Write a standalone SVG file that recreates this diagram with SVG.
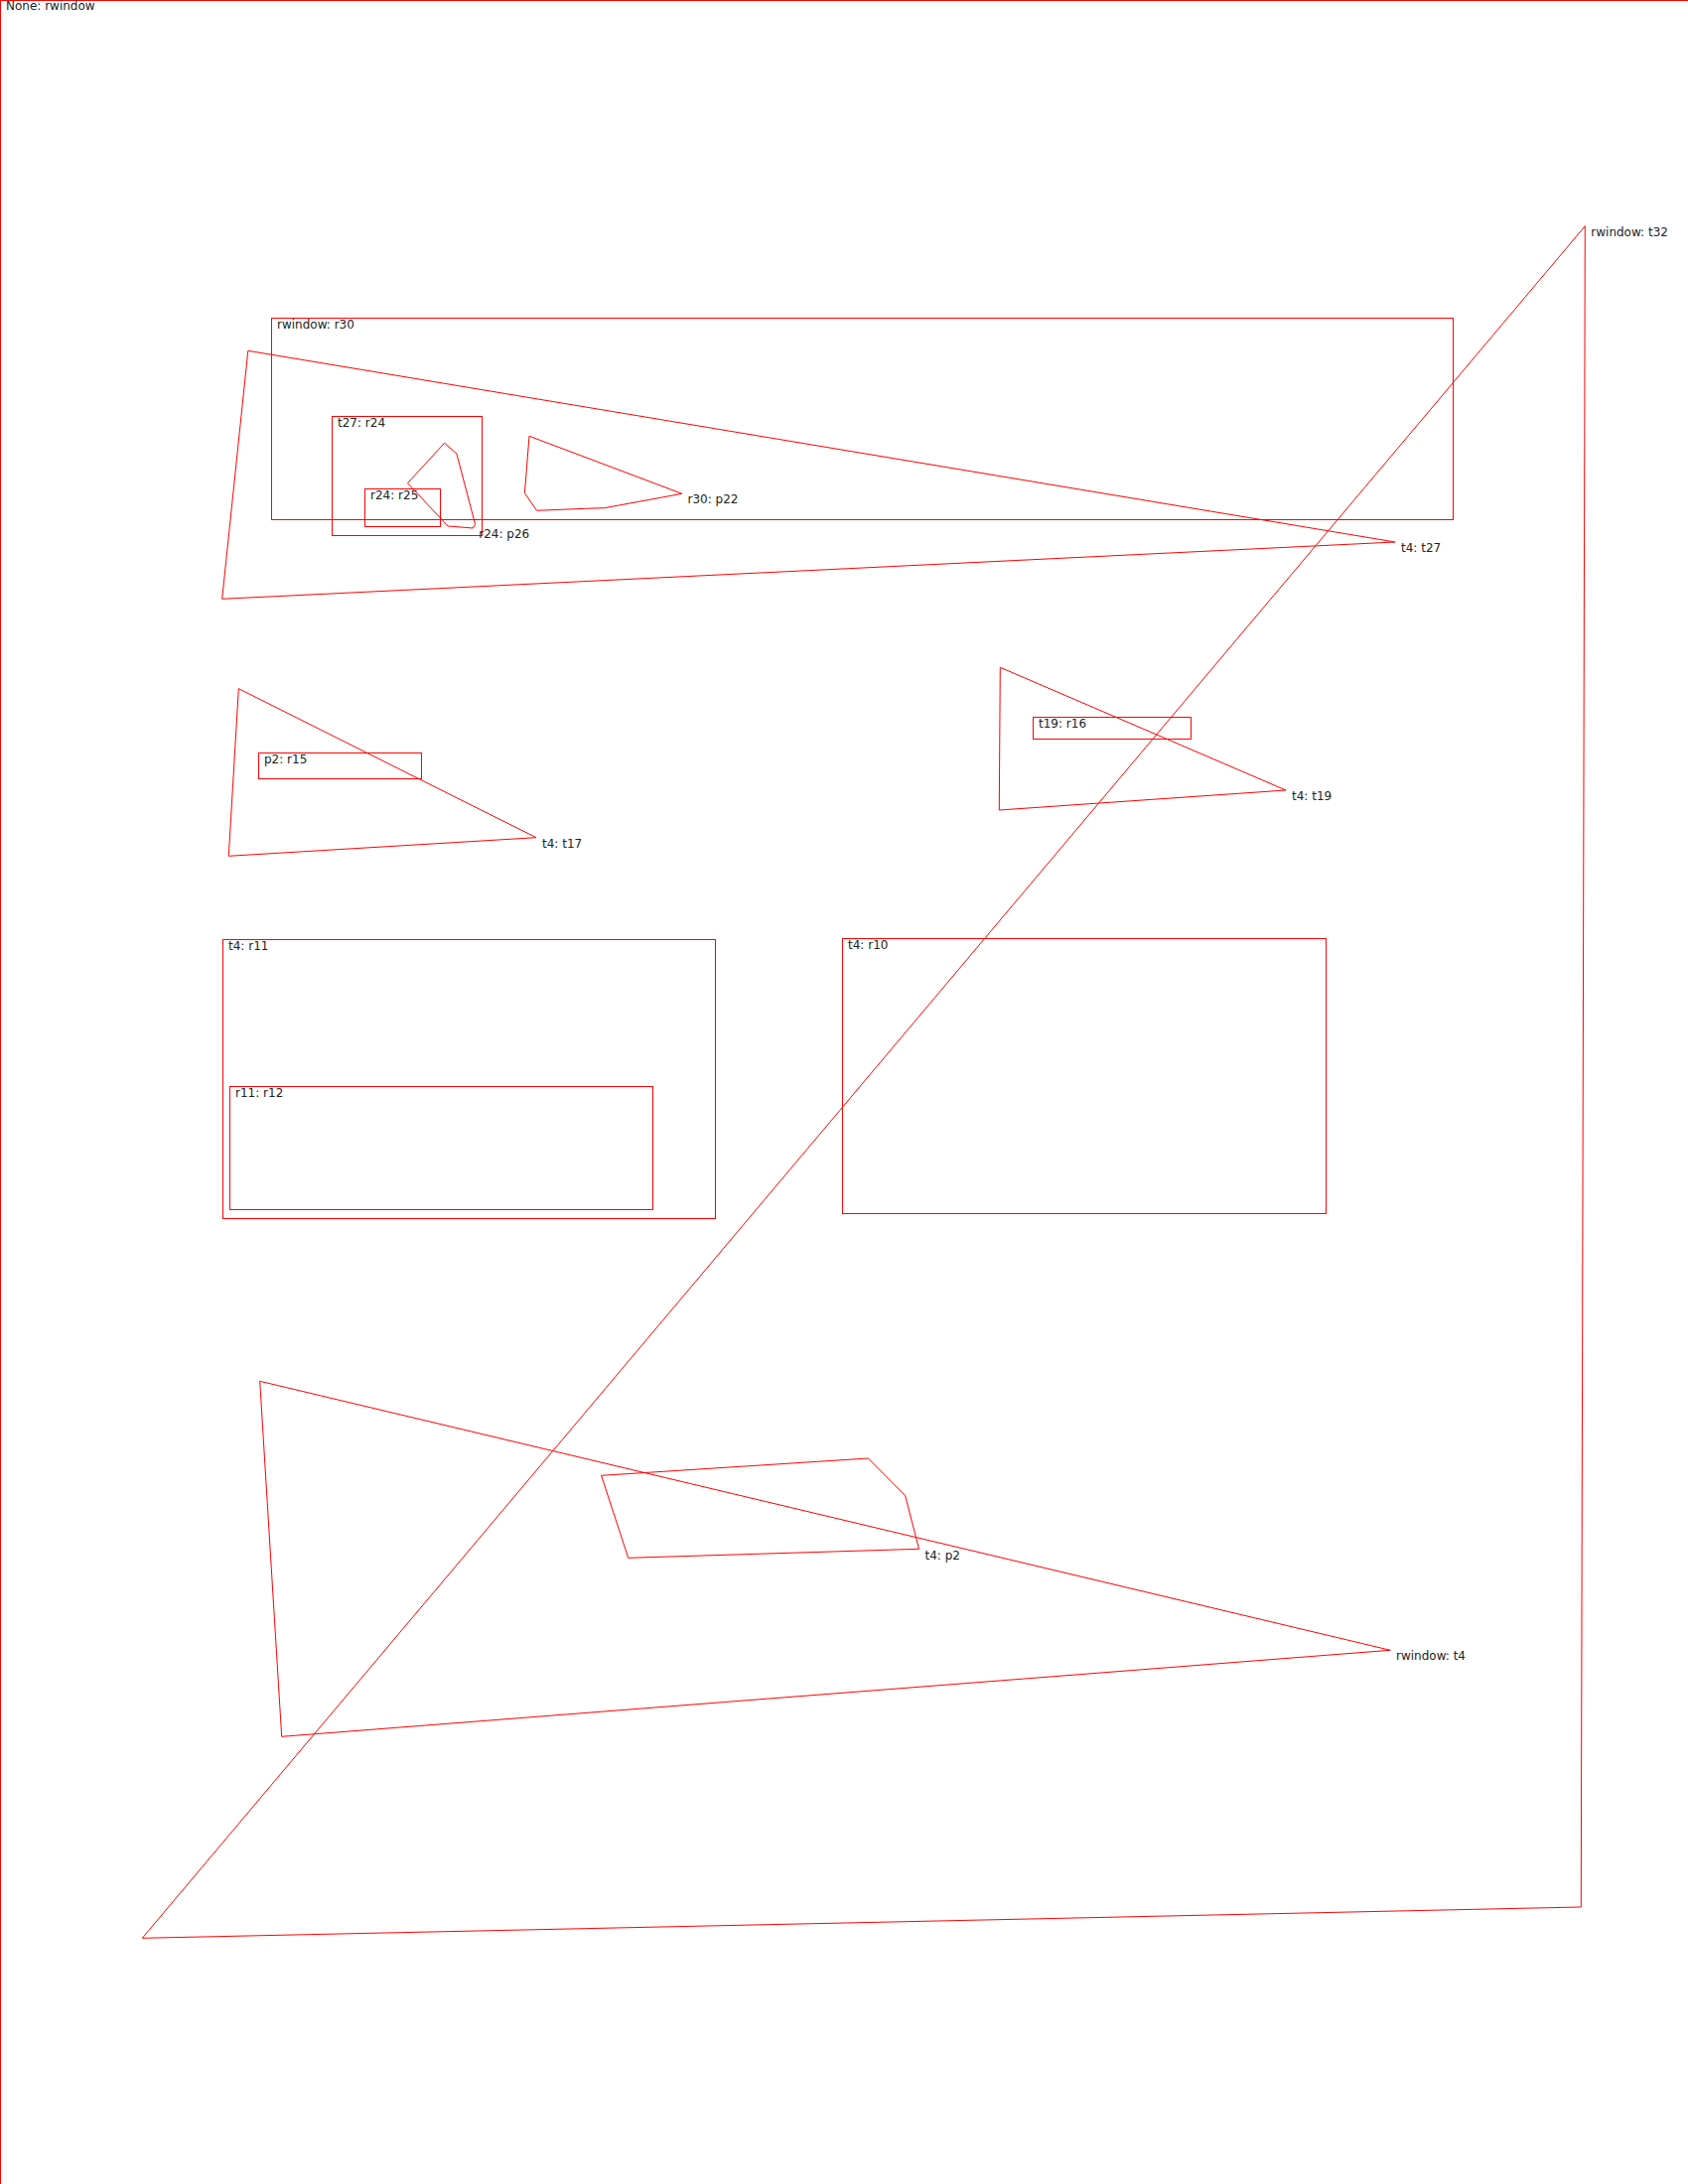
<svg xmlns="http://www.w3.org/2000/svg" width="1700" height="2200" viewBox="0 0 1700 2200">
<style>
  .s { fill: none; stroke: #ff0000; stroke-width: 1; }
  .t { font-family: "DejaVu Sans", sans-serif; font-size: 12px; fill: #222222; }
</style>
<rect x="0" y="0" width="1700" height="2200" fill="#ffffff"/>
<g id="rwindow">
  <rect class="s" x="0.5" y="0.5" width="1700" height="2200"/>
  <text class="t" x="6" y="10">None: rwindow</text>
</g>
<g id="t32">
  <polygon class="s" points="1596.3,227.7 1592.3,1921 143.3,1952.3"/>
  <text class="t" x="1602.3" y="237.7">rwindow: t32</text>
</g>
<g id="r30">
  <rect class="s" x="273.5" y="320.5" width="1190" height="203"/>
  <text class="t" x="279" y="330.5">rwindow: r30</text>
</g>
<g id="t27">
  <polygon class="s" points="249.8,353.3 1405,546 223.7,603.3"/>
  <text class="t" x="1411" y="556">t4: t27</text>
</g>
<g id="r24">
  <rect class="s" x="334.5" y="419.5" width="151" height="120"/>
  <text class="t" x="340" y="429.5">t27: r24</text>
</g>
<g id="r25">
  <rect class="s" x="367.5" y="492.5" width="76" height="38"/>
  <text class="t" x="373" y="502.5">r24: r25</text>
</g>
<g id="p26">
  <polygon class="s" points="447.6,446.3 459.9,457 478.6,528.3 476.3,532 451.1,530 410.5,486.7"/>
  <text class="t" x="482.3" y="542">r24: p26</text>
</g>
<g id="p22">
  <polygon class="s" points="533,439.3 686.8,497.3 608.7,511.7 589.6,512.3 540.6,514.3 528.4,496.7"/>
  <text class="t" x="692.5" y="507.3">r30: p22</text>
</g>
<g id="t17">
  <polygon class="s" points="240.3,693.7 540,843.7 230.3,862.3"/>
  <text class="t" x="546" y="854">t4: t17</text>
</g>
<g id="r15">
  <rect class="s" x="260.5" y="758.5" width="164" height="26"/>
  <text class="t" x="266" y="768.5">p2: r15</text>
</g>
<g id="t19">
  <polygon class="s" points="1007.3,672.3 1295,796 1006.3,816"/>
  <text class="t" x="1301" y="806">t4: t19</text>
</g>
<g id="r16">
  <rect class="s" x="1040.5" y="722.5" width="159" height="22"/>
  <text class="t" x="1046" y="732.5">t19: r16</text>
</g>
<g id="r11">
  <rect class="s" x="224.5" y="946.5" width="496" height="281"/>
  <text class="t" x="230" y="956.5">t4: r11</text>
</g>
<g id="r12">
  <rect class="s" x="231.5" y="1094.5" width="426" height="124"/>
  <text class="t" x="237" y="1104.5">r11: r12</text>
</g>
<g id="r10">
  <rect class="s" x="848.5" y="945.5" width="487" height="277"/>
  <text class="t" x="854" y="955.5">t4: r10</text>
</g>
<g id="t4">
  <polygon class="s" points="261.7,1391.3 1400.2,1662.3 283.7,1749.3"/>
  <text class="t" x="1406" y="1672.3">rwindow: t4</text>
</g>
<g id="p2">
  <polygon class="s" points="605.6,1486.3 874.5,1469 911.7,1506.7 925.5,1560.3 632.7,1569.3"/>
  <text class="t" x="931.5" y="1570.5">t4: p2</text>
</g>
<g id="connectors"/>
</svg>
